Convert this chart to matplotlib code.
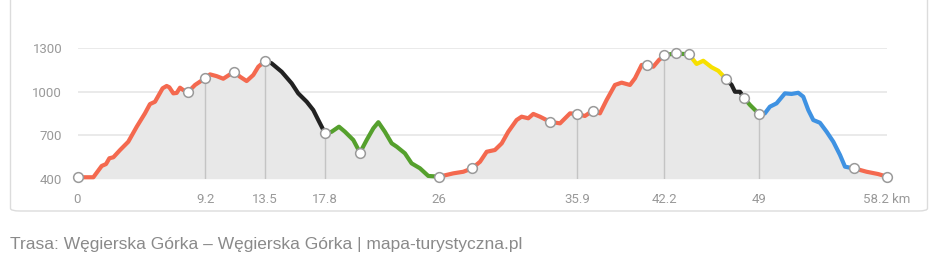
import numpy as np
import matplotlib.pyplot as plt
from matplotlib.patches import FancyBboxPatch

# elevation profile (km, m a.s.l.)
dist = [0, 1.14, 1.74, 2.05, 2.29, 2.58, 3.06, 3.65, 4.26, 4.85, 5.21, 5.57,
        6.12, 6.41, 6.6, 6.89, 7.13, 7.37, 7.6, 7.97, 8.45, 9.2, 9.53, 10.0,
        10.48, 10.9, 11.27, 11.68, 12.16, 12.64, 13.0, 13.5,
        13.96, 14.68, 15.4, 15.87, 16.48, 16.95, 17.31, 17.8,
        18.27, 18.8, 19.23, 19.83, 20.31, 20.79, 21.27, 21.63, 22.1, 22.59,
        22.95, 23.54, 24.02, 24.62, 25.22, 26.0,
        27.02, 27.74, 28.38, 28.94, 29.42, 30.01, 30.5, 30.97, 31.57, 31.93,
        32.41, 32.77, 33.25, 33.97, 34.69, 35.41, 35.9, 36.48, 37.04, 37.56,
        38.04, 38.64, 39.12, 39.72, 40.08, 40.56, 40.92, 41.4, 41.8, 42.2,
        42.6, 43.03, 43.44, 43.96,
        44.51, 44.99, 45.59, 46.07, 46.62,
        47.03, 47.27, 47.63, 47.94,
        48.35, 49.0,
        49.42, 49.78, 50.26, 50.86, 51.34, 51.82, 52.18, 52.54, 52.9, 53.38,
        53.86, 54.34, 54.82, 55.18, 55.54, 55.82,
        56.73, 57.57, 58.2]
elev = [410, 410, 488, 501, 541, 548, 598, 655, 759, 851, 915, 931,
        1024, 1040, 1031, 989, 992, 1028, 1012, 1000, 1047, 1095, 1120, 1108,
        1090, 1116, 1138, 1104, 1074, 1116, 1173, 1214,
        1196, 1138, 1058, 989, 931, 874, 805, 713,
        724, 759, 724, 667, 580, 667, 748, 790, 724, 644,
        621, 575, 506, 472, 419, 414,
        437, 448, 472, 517, 586, 598, 644, 724, 805, 828,
        817, 847, 828, 793, 782, 851, 847, 833, 869, 851,
        943, 1047, 1063, 1047, 1093, 1185, 1185, 1173, 1219, 1252,
        1259, 1265, 1262, 1258,
        1192, 1214, 1169, 1145, 1090,
        1047, 1000, 1000, 955,
        909, 847,
        851, 897, 920, 989, 985, 993, 966, 874, 805, 786,
        724, 655, 564, 483, 476, 472,
        448, 432, 414]

# coloured trail sections
seg_from = [0, 13.5, 17.8, 26, 42.2, 43.96, 46.62, 47.94, 49, 55.82]
seg_to = [13.5, 17.8, 26, 42.2, 43.96, 46.62, 47.94, 49, 55.82, 58.2]
seg_color = ['#f4694f', '#222222', '#55a02d', '#f4694f', '#55a02d',
             '#f7e000', '#222222', '#55a02d', '#3f92e2', '#f4694f']

waypoints = [0, 7.97, 9.2, 11.27, 13.5, 17.8, 20.31, 26, 28.38, 33.97, 35.9,
             37.04, 40.92, 42.2, 43.03, 43.96, 46.62, 47.94, 49, 55.82, 58.2]
guides = [9.2, 13.5, 17.8, 35.9, 42.2, 49]
xticks = [0, 9.2, 13.5, 17.8, 26, 35.9, 42.2, 49, 58.2]
xlabels = ['0', '9.2', '13.5', '17.8', '26', '35.9', '42.2', '49', '58.2 km']
yticks = [400, 700, 1000, 1300]

plt.rcParams['font.family'] = ['Roboto', 'DejaVu Sans']

d = np.array(dist)
e = np.array(elev)

fig = plt.figure(figsize=(9.36, 2.66), dpi=100)
ax = fig.add_axes([77.5 / 936, 1 - 178.7 / 266, 809.5 / 936, 130.4 / 266])

# card frame (top edge lies above the picture)
fig.patches.append(FancyBboxPatch((10.5 / 936, (266 - 211) / 266),
                                  917 / 936, 1.0, boxstyle='round,pad=0,rounding_size=0.01',
                                  transform=fig.transFigure, fill=False,
                                  edgecolor='#dcdcdc', linewidth=1))

ax.fill_between(d, e, 400, color='#e8e8e8', zorder=1, linewidth=0)
for g in guides:
    ax.vlines(g, 400, np.interp(g, d, e), color='#c4c4c4', linewidth=1, zorder=2)

for a, b, c in zip(seg_from, seg_to, seg_color):
    m = (d >= a) & (d <= b)
    ax.plot(d[m], e[m], color=c, linewidth=3, solid_capstyle='round',
            solid_joinstyle='round', zorder=3, clip_on=False)

ax.plot(waypoints, np.interp(waypoints, d, e), 'o', markersize=7,
        markerfacecolor='white', markeredgecolor='#9a9a9a',
        markeredgewidth=1.1, zorder=4, clip_on=False)

ax.set_xlim(0, 58.2)
ax.set_ylim(400, 1300)
ax.set_xticks(xticks)
ax.set_xticklabels(xlabels)
ax.set_yticks(yticks)
ax.grid(axis='y', color='#e6e6e6', linewidth=1.2)
ax.set_axisbelow(True)
for s in ax.spines.values():
    s.set_visible(False)
ax.axhline(400, color='#d4d4d4', linewidth=1, zorder=0)
ax.tick_params(length=0, colors='#999999', labelsize=9.5)
ax.tick_params(axis='x', pad=10)
ax.tick_params(axis='y', pad=11)

fig.text(10 / 936, 1 - 245 / 266, 'Trasa: W\u0119gierska G\u00f3rka \u2013 W\u0119gierska G\u00f3rka | mapa-turystyczna.pl',
         family=['Liberation Sans', 'DejaVu Sans'], fontsize=12.5, color='#8a8a8a', va='center')

fig.savefig('out.png', dpi=100)
